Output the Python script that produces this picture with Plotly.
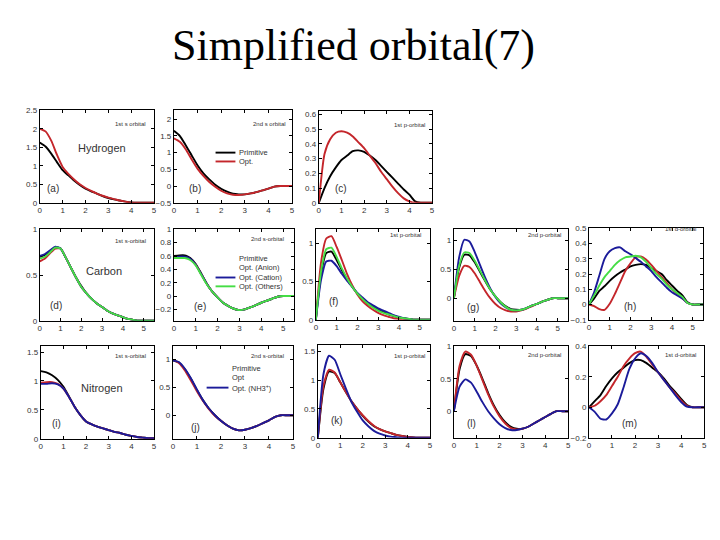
import plotly.graph_objects as go

# ---------------- data ----------------
X5 = [0, 0.25, 0.5, 0.75, 1, 1.25, 1.5, 1.75, 2, 2.25, 2.5, 2.75, 3, 3.25, 3.5, 3.75, 4, 4.25, 4.5, 4.75, 5]
X55 = [0, 0.25, 0.5, 0.75, 1, 1.25, 1.5, 1.75, 2, 2.25, 2.5, 2.75, 3, 3.25, 3.5, 3.75, 4, 4.25, 4.5, 4.75, 5, 5.25, 5.5]

# Hydrogen
a_prim = [1.63, 1.52, 1.33, 1.1, 0.88, 0.74, 0.6, 0.48, 0.38, 0.31, 0.25, 0.18, 0.13, 0.09, 0.06, 0.03, 0.01, 0, 0, 0, 0]
a_opt = [2.0, 1.93, 1.68, 1.3, 0.97, 0.78, 0.63, 0.5, 0.4, 0.32, 0.25, 0.19, 0.14, 0.1, 0.06, 0.03, 0.0, 0, 0, 0, 0]
b_prim = [1.65, 1.5, 1.22, 0.92, 0.62, 0.38, 0.2, 0.04, -0.08, -0.17, -0.23, -0.25, -0.25, -0.22, -0.18, -0.13, -0.08, -0.02, 0, 0, 0]
b_opt = [1.42, 1.32, 1.1, 0.8, 0.52, 0.3, 0.12, -0.02, -0.14, -0.22, -0.26, -0.27, -0.25, -0.22, -0.18, -0.13, -0.08, -0.02, 0, 0, 0]
c_prim = [0, 0.1, 0.18, 0.24, 0.29, 0.32, 0.35, 0.355, 0.345, 0.32, 0.29, 0.25, 0.21, 0.17, 0.13, 0.09, 0.055, 0.01, 0, 0, 0]
c_opt = [0, 0.33, 0.43, 0.475, 0.485, 0.475, 0.45, 0.41, 0.37, 0.32, 0.27, 0.21, 0.16, 0.11, 0.065, 0.03, 0.01, 0, 0, 0, 0]

# Carbon
d_prim = [0.7, 0.72, 0.76, 0.8, 0.79, 0.69, 0.58, 0.47, 0.38, 0.3, 0.24, 0.19, 0.15, 0.11, 0.08, 0.06, 0.04, 0.02, 0.01, 0, 0, 0, 0]
d_anion = [0.65, 0.68, 0.74, 0.79, 0.79, 0.69, 0.58, 0.47, 0.37, 0.3, 0.24, 0.19, 0.15, 0.11, 0.08, 0.06, 0.04, 0.02, 0.01, 0, 0, 0, 0]
d_cation = [0.71, 0.73, 0.77, 0.81, 0.79, 0.69, 0.58, 0.47, 0.37, 0.3, 0.24, 0.19, 0.15, 0.11, 0.08, 0.06, 0.04, 0.02, 0.01, 0, 0, 0, 0]
d_others = [0.68, 0.7, 0.75, 0.8, 0.79, 0.69, 0.58, 0.47, 0.37, 0.3, 0.24, 0.19, 0.15, 0.11, 0.08, 0.06, 0.04, 0.02, 0.01, 0, 0, 0, 0]
e_prim = [0.6, 0.61, 0.61, 0.57, 0.48, 0.34, 0.19, 0.07, -0.02, -0.1, -0.15, -0.19, -0.21, -0.2, -0.17, -0.135, -0.1, -0.07, -0.04, -0.01, 0, 0, 0]
e_anion = [0.57, 0.58, 0.58, 0.55, 0.47, 0.33, 0.19, 0.07, -0.02, -0.1, -0.15, -0.19, -0.21, -0.2, -0.17, -0.135, -0.1, -0.07, -0.04, -0.01, 0, 0, 0]
e_cation = [0.58, 0.59, 0.59, 0.56, 0.47, 0.33, 0.19, 0.07, -0.02, -0.1, -0.15, -0.19, -0.21, -0.2, -0.17, -0.135, -0.1, -0.07, -0.04, -0.01, 0, 0, 0]
e_others = [0.57, 0.57, 0.57, 0.54, 0.46, 0.32, 0.18, 0.07, -0.02, -0.1, -0.15, -0.19, -0.21, -0.2, -0.17, -0.135, -0.1, -0.07, -0.04, -0.01, 0, 0, 0]
f_prim = [0, 0.6, 0.87, 0.89, 0.78, 0.65, 0.53, 0.43, 0.34, 0.27, 0.21, 0.17, 0.13, 0.1, 0.07, 0.05, 0.03, 0.02, 0.01, 0, 0, 0, 0]
f_anion = [0, 0.75, 1.06, 1.09, 0.95, 0.78, 0.6, 0.45, 0.33, 0.24, 0.18, 0.13, 0.09, 0.06, 0.04, 0.02, 0.01, 0, 0, 0, 0, 0, 0]
f_cation = [0, 0.52, 0.76, 0.77, 0.7, 0.6, 0.51, 0.43, 0.35, 0.29, 0.23, 0.19, 0.15, 0.12, 0.09, 0.06, 0.04, 0.02, 0.01, 0, 0, 0, 0]
f_others = [0, 0.63, 0.92, 0.94, 0.82, 0.67, 0.54, 0.43, 0.34, 0.27, 0.21, 0.16, 0.12, 0.09, 0.07, 0.05, 0.03, 0.02, 0.01, 0, 0, 0, 0]
g_prim = [0, 0.52, 0.75, 0.74, 0.62, 0.46, 0.3, 0.15, 0.03, -0.07, -0.14, -0.19, -0.2, -0.2, -0.17, -0.13, -0.1, -0.06, -0.03, 0, 0, 0, 0]
g_anion = [0, 0.38, 0.56, 0.54, 0.43, 0.28, 0.13, 0.0, -0.1, -0.17, -0.21, -0.23, -0.23, -0.21, -0.18, -0.14, -0.1, -0.06, -0.03, 0, 0, 0, 0]
g_cation = [0, 0.7, 1.01, 0.98, 0.8, 0.58, 0.36, 0.17, 0.02, -0.09, -0.16, -0.2, -0.21, -0.2, -0.17, -0.13, -0.1, -0.06, -0.03, 0, 0, 0, 0]
g_others = [0, 0.55, 0.79, 0.78, 0.65, 0.48, 0.31, 0.15, 0.03, -0.07, -0.15, -0.2, -0.21, -0.2, -0.17, -0.13, -0.1, -0.06, -0.03, 0, 0, 0, 0]
h_prim = [0, 0.04, 0.09, 0.12, 0.155, 0.185, 0.21, 0.23, 0.25, 0.26, 0.265, 0.26, 0.24, 0.22, 0.2, 0.16, 0.125, 0.09, 0.06, 0.015, 0, 0, 0]
h_anion = [0, -0.01, -0.03, -0.035, 0.005, 0.07, 0.145, 0.22, 0.27, 0.31, 0.315, 0.295, 0.26, 0.22, 0.18, 0.14, 0.1, 0.07, 0.04, 0.01, 0, 0, 0]
h_cation = [0, 0.08, 0.19, 0.3, 0.35, 0.37, 0.375, 0.35, 0.33, 0.305, 0.28, 0.25, 0.22, 0.18, 0.145, 0.11, 0.08, 0.06, 0.04, 0.01, 0, 0, 0]
h_others = [0, 0.06, 0.125, 0.18, 0.22, 0.26, 0.29, 0.31, 0.315, 0.32, 0.31, 0.28, 0.24, 0.2, 0.17, 0.13, 0.1, 0.075, 0.05, 0.01, 0, 0, 0]

# Nitrogen
i_prim = [1.17, 1.15, 1.1, 1.02, 0.9, 0.73, 0.55, 0.41, 0.3, 0.25, 0.21, 0.18, 0.15, 0.12, 0.1, 0.07, 0.05, 0.03, 0.02, 0.01, 0.01]
i_opt = [0.97, 0.98, 0.98, 0.95, 0.87, 0.72, 0.55, 0.41, 0.3, 0.25, 0.21, 0.18, 0.15, 0.12, 0.1, 0.07, 0.05, 0.03, 0.02, 0.01, 0.01]
i_nh3 = [0.95, 0.95, 0.96, 0.94, 0.87, 0.72, 0.55, 0.41, 0.3, 0.25, 0.21, 0.18, 0.15, 0.12, 0.1, 0.07, 0.05, 0.03, 0.02, 0.01, 0.01]
j_prim = [0.98, 0.94, 0.82, 0.65, 0.45, 0.27, 0.12, 0.0, -0.1, -0.18, -0.24, -0.27, -0.26, -0.23, -0.19, -0.14, -0.09, -0.03, 0, 0, 0]
j_opt = [0.99, 0.93, 0.8, 0.62, 0.43, 0.26, 0.11, -0.01, -0.1, -0.18, -0.24, -0.27, -0.26, -0.23, -0.19, -0.14, -0.09, -0.03, 0, 0, 0]
j_nh3 = [0.98, 0.95, 0.83, 0.66, 0.46, 0.27, 0.12, 0.0, -0.1, -0.18, -0.24, -0.27, -0.26, -0.23, -0.19, -0.14, -0.09, -0.03, 0, 0, 0]
k_prim = [0, 0.85, 1.15, 1.12, 0.96, 0.79, 0.63, 0.5, 0.38, 0.28, 0.2, 0.15, 0.11, 0.08, 0.05, 0.03, 0.015, 0.005, 0, 0, 0]
k_opt = [0, 0.9, 1.18, 1.13, 0.96, 0.79, 0.63, 0.5, 0.39, 0.29, 0.21, 0.15, 0.11, 0.08, 0.05, 0.03, 0.015, 0.005, 0, 0, 0]
k_nh3 = [0, 1.1, 1.42, 1.35, 1.1, 0.85, 0.62, 0.45, 0.3, 0.2, 0.12, 0.07, 0.04, 0.02, 0.01, 0, 0, 0, 0, 0, 0]
l_prim = [0, 0.65, 0.88, 0.85, 0.7, 0.5, 0.28, 0.09, -0.06, -0.17, -0.24, -0.27, -0.27, -0.24, -0.19, -0.14, -0.09, -0.04, 0, 0, 0]
l_opt = [0, 0.7, 0.92, 0.87, 0.7, 0.48, 0.26, 0.07, -0.08, -0.19, -0.26, -0.28, -0.27, -0.24, -0.19, -0.14, -0.09, -0.04, 0, 0, 0]
l_nh3 = [0, 0.38, 0.49, 0.44, 0.3, 0.14, 0.0, -0.11, -0.2, -0.26, -0.29, -0.29, -0.27, -0.24, -0.19, -0.14, -0.09, -0.04, 0, 0, 0]
m_prim = [0, 0.04, 0.08, 0.14, 0.19, 0.23, 0.26, 0.29, 0.31, 0.31, 0.29, 0.26, 0.23, 0.19, 0.14, 0.1, 0.055, 0.015, 0, 0, 0]
m_opt = [0, 0.01, 0.04, 0.08, 0.14, 0.2, 0.27, 0.32, 0.355, 0.365, 0.33, 0.28, 0.23, 0.18, 0.13, 0.09, 0.045, 0.01, 0, 0, 0]
m_nh3 = [0, -0.03, -0.075, -0.08, -0.04, 0.02, 0.13, 0.25, 0.32, 0.355, 0.335, 0.29, 0.23, 0.18, 0.13, 0.08, 0.035, 0.005, 0, 0, 0]

# tick values / labels
XT5 = [0, 1, 2, 3, 4, 5]
YT_a = [0, 0.5, 1, 1.5, 2, 2.5]
YT_b = [-0.5, 0, 0.5, 1, 1.5, 2]
YT_c = [0, 0.1, 0.2, 0.3, 0.4, 0.5, 0.6]
YT_01 = [0, 0.5, 1]
YT_e = [-0.2, 0, 0.2, 0.4, 0.6, 0.8, 1]
YT_h = [-0.1, 0, 0.1, 0.2, 0.3, 0.4, 0.5]
YT_i = [0, 0.5, 1, 1.5]
YT_m = [-0.2, 0, 0.2, 0.4]

TITLE = "Simplified orbital(7)"
LEG_H = ["Primitive", "Opt."]
LEG_C = ["Primitive", "Opt. (Anion)", "Opt. (Cation)", "Opt. (Others)"]
LEG_N = ["Primitive", "Opt", "Opt. (NH3<sup>+</sup>)"]

# ---------------- styling ----------------
COL = {"prim": "#000000", "red": "#c4262b", "blue": "#1b1b9a", "green": "#45dd45"}
W, H = 720, 540
SANS = "Liberation Sans, Arial, sans-serif"


def px(x):
    return x / W


def py(y):
    return 1 - y / H


panels = [
    dict(box=(30, 145, 100, 194), xr=[0, 5], yr=[0, 2.5], x=X5, yt=YT_a,
         s=[("prim", a_prim), ("red", a_opt)], lab="(a)", lp=(43, 180), orb="1st s orbital", op=(139, 114)),
    dict(box=(165, 284, 100, 194), xr=[0, 5], yr=[-0.5, 2.26], x=X5, yt=YT_b,
         s=[("prim", b_prim), ("red", b_opt)], lab="(b)", lp=(186, 179), orb="2nd s orbital", op=(280, 114)),
    dict(box=(311, 425, 101, 194), xr=[0, 5], yr=[0, 0.62], x=X5, yt=YT_c,
         s=[("prim", c_prim), ("red", c_opt)], lab="(c)", lp=(333, 179), orb="1st p-orbital", op=(420, 115)),
    dict(box=(30, 145, 221, 314), xr=[0, 5.5], yr=[0, 1], x=X55, yt=YT_01,
         s=[("prim", d_prim), ("red", d_anion), ("blue", d_cation), ("green", d_others)],
         lab="(d)", lp=(46, 298), orb="1st s-orbital", op=(139, 233)),
    dict(box=(165, 286, 221, 314), xr=[0, 5.5], yr=[-0.37, 1.0], x=X55, yt=YT_e,
         s=[("prim", e_prim), ("red", e_anion), ("blue", e_cation), ("green", e_others)],
         lab="(e)", lp=(191, 299), orb="2nd s-orbital", op=(278, 231)),
    dict(box=(308, 423, 221, 313), xr=[0, 5.5], yr=[0, 1.18], x=X55, yt=YT_01,
         s=[("prim", f_prim), ("red", f_anion), ("blue", f_cation), ("green", f_others)],
         lab="(f)", lp=(326, 294), orb="1st p-orbital", op=(416, 227)),
    dict(box=(447, 562, 221, 314), xr=[0, 5.5], yr=[-0.39, 1.19], x=X55, yt=YT_01,
         s=[("prim", g_prim), ("red", g_anion), ("blue", g_cation), ("green", g_others)],
         lab="(g)", lp=(466, 300), orb="2nd p-orbital", op=(557, 227)),
    dict(box=(583, 698, 220, 313), xr=[0, 5.5], yr=[-0.1, 0.5], x=X55, yt=YT_h,
         s=[("prim", h_prim), ("red", h_anion), ("blue", h_cation), ("green", h_others)],
         lab="(h)", lp=(624, 299), orb="1st d-orbital", op=(693, 221)),
    dict(box=(31, 145, 340, 434), xr=[0, 5], yr=[0, 1.6], x=X5, yt=YT_i,
         s=[("prim", i_prim), ("red", i_opt), ("blue", i_nh3)],
         lab="(i)", lp=(47, 418), orb="1st s-orbital", op=(139, 350)),
    dict(box=(164, 285, 340, 434), xr=[0, 5], yr=[-0.42, 1.23], x=X5, yt=YT_01,
         s=[("prim", j_prim), ("red", j_opt), ("blue", j_nh3)],
         lab="(j)", lp=(187, 423), orb="2nd s-orbital", op=(278, 350)),
    dict(box=(310, 423, 339, 433), xr=[0, 5], yr=[0, 1.6], x=X5, yt=YT_i,
         s=[("prim", k_prim), ("red", k_opt), ("blue", k_nh3)],
         lab="(k)", lp=(329, 415), orb="1st p-orbital", op=(420, 350)),
    dict(box=(447, 562, 340, 433), xr=[0, 5], yr=[-0.41, 1.0], x=X5, yt=YT_01,
         s=[("prim", l_prim), ("red", l_opt), ("blue", l_nh3)],
         lab="(l)", lp=(465, 418), orb="2nd p-orbital", op=(557, 349)),
    dict(box=(583, 699, 340, 433), xr=[0, 5], yr=[-0.2, 0.4], x=X5, yt=YT_m,
         s=[("prim", m_prim), ("red", m_opt), ("blue", m_nh3)],
         lab="(m)", lp=(624, 418), orb="1st d-orbital", op=(693, 349)),
]

fig = go.Figure()
layout = dict(width=W, height=H, margin=dict(l=0, r=0, t=0, b=0),
              paper_bgcolor="white", plot_bgcolor="white", showlegend=False)
annotations = []
shapes = []
TICKFONT = dict(family=SANS, size=8, color="#333333")

for n, p in enumerate(panels, start=1):
    xa = "xaxis" if n == 1 else f"xaxis{n}"
    ya = "yaxis" if n == 1 else f"yaxis{n}"
    xr_ = "x" if n == 1 else f"x{n}"
    yr_ = "y" if n == 1 else f"y{n}"
    l, r, t, b = p["box"]
    common = dict(showline=True, linecolor="black", linewidth=1, mirror="ticks",
                  ticks="inside", ticklen=3, tickwidth=1, tickcolor="black",
                  showgrid=False, zeroline=False, tickfont=TICKFONT, fixedrange=True)
    layout[xa] = dict(domain=[px(l), px(r)], range=p["xr"], anchor=yr_, tickvals=XT5, **common)
    layout[ya] = dict(domain=[py(b), py(t)], range=p["yr"], anchor=xr_, tickvals=p["yt"], **common)
    for key, ys in p["s"]:
        fig.add_trace(go.Scatter(x=p["x"], y=ys, mode="lines", xaxis=xr_, yaxis=yr_,
                                 line=dict(color=COL[key], width=1.9, shape="spline", smoothing=0.6),
                                 hoverinfo="skip", cliponaxis=True))
    annotations.append(dict(text=p["lab"], x=px(p["lp"][0]), y=py(p["lp"][1]), xref="paper", yref="paper",
                            showarrow=False, xanchor="center", yanchor="middle",
                            font=dict(family=SANS, size=10, color="#333333")))
    annotations.append(dict(text=p["orb"], x=px(p["op"][0]), y=py(p["op"][1]), xref="paper", yref="paper",
                            showarrow=False, xanchor="right", yanchor="middle",
                            font=dict(family=SANS, size=6, color="#333333")))

# element names
for txt, (x, y) in [("Hydrogen", (93, 138)), ("Carbon", (95, 263)), ("Nitrogen", (93, 382))]:
    annotations.append(dict(text=txt, x=px(x), y=py(y), xref="paper", yref="paper", showarrow=False,
                            xanchor="center", yanchor="middle",
                            font=dict(family=SANS, size=11, color="#333333")))

# small legends (text + line samples)
LFONT = dict(family=SANS, size=7.5, color="#333333")


def legend(items, x_text, ys, x0, x1, colors):
    for txt, y, c in zip(items, ys, colors):
        annotations.append(dict(text=txt, x=px(x_text), y=py(y), xref="paper", yref="paper",
                                showarrow=False, xanchor="left", yanchor="middle", font=LFONT))
        if c is not None:
            shapes.append(dict(type="line", xref="paper", yref="paper", x0=px(x0), x1=px(x1),
                               y0=py(y), y1=py(y), line=dict(color=c, width=1.9)))


legend(LEG_H, 229, [143, 152], 207, 227, [COL["prim"], COL["red"]])
legend(LEG_C, 229, [251, 260, 270, 279], 207, 227, [None, None, COL["blue"], COL["green"]])
legend(LEG_N, 222, [363, 372, 382], 198, 220, [None, None, COL["blue"]])

annotations.append(dict(text=TITLE, x=px(346), y=py(34), xref="paper", yref="paper", showarrow=False,
                        xanchor="center", yanchor="middle",
                        font=dict(family="Liberation Serif, Times New Roman, serif", size=44, color="black")))

layout["annotations"] = annotations
layout["shapes"] = shapes
fig.update_layout(**layout)
fig.write_html("out.html")
